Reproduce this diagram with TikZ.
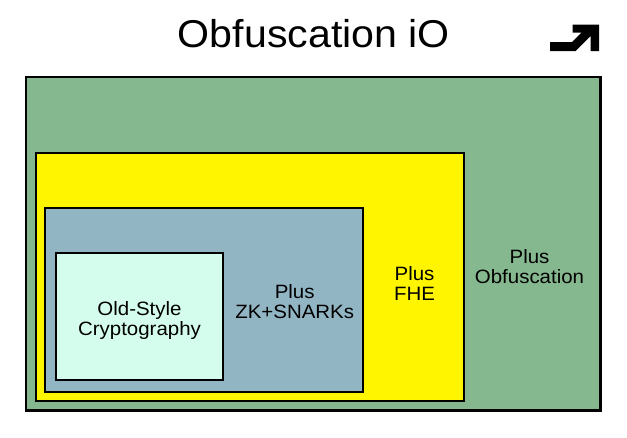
\documentclass[tikz,border=0pt]{standalone}
\usepackage{fontspec}
\setmainfont{Liberation Sans}[FakeStretch=1.06]
\definecolor{cgreen}{RGB}{134,184,143}
\definecolor{cyellow}{RGB}{255,245,0}
\definecolor{cblue}{RGB}{146,181,196}
\definecolor{cmint}{RGB}{212,253,237}
\begin{document}
\begin{tikzpicture}[x=1pt,y=-1pt,
  layer/.style={draw=black,line width=2.2pt,rectangle,inner sep=0pt,outer sep=0pt},
  lbl/.style={align=center,inner sep=0pt,anchor=north,font=\fontsize{19.3}{20}\selectfont}]
\fill[white] (0,0) rectangle (627,437);
\useasboundingbox (0,0) rectangle (627,437);
\node[anchor=base,inner sep=0pt,font=\fontsize{38.8}{40}\selectfont] (title) at (314,47) {Obfuscation iO};
\fill[black] (550,42) -- (572,42) -- (581.5,32.5) -- (572.5,32.5) -- (572.5,24.5)
  -- (599,24.5) -- (599,51) -- (590.5,51) -- (590.5,36.2) -- (575.7,51) -- (550,51) -- cycle;
\node[layer,fill=cgreen,minimum width=574.2pt,minimum height=333.8pt] (obf) at (313.4,243.6) {};
\node[layer,fill=cyellow,minimum width=427.5pt,minimum height=248pt] (fhe) at (250.05,277) {};
\node[layer,fill=cblue,minimum width=317.7pt,minimum height=183.5pt] (zk) at (203.85,299.95) {};
\node[layer,fill=cmint,minimum width=166.6pt,minimum height=126.9pt] (old) at (139.5,316.75) {};
\node[lbl] (tobf) at (529.5,249) {Plus\\Obfuscation};
\node[lbl] (tfhe) at (414.5,266) {Plus\\FHE};
\node[lbl] (tzk) at (294.7,284.3) {Plus\\ZK+SNARKs};
\node[lbl] (told) at (139.5,301) {Old-Style\\Cryptography};
\end{tikzpicture}
\end{document}
